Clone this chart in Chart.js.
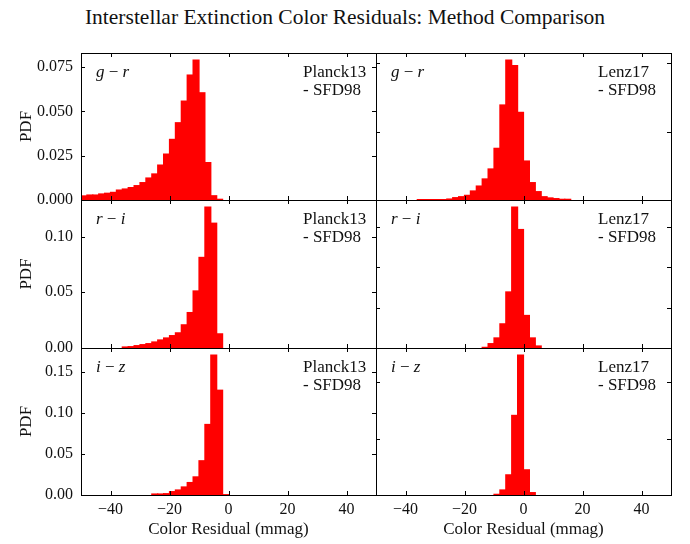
<!DOCTYPE html>
<html>
<head>
<meta charset="utf-8">
<title>Interstellar Extinction Color Residuals</title>
<script src="https://cdn.jsdelivr.net/npm/chart.js@4.4.0/dist/chart.umd.min.js"></script>
<style>
  html, body { margin: 0; padding: 0; background: #fff; }
  #fig { position: relative; width: 690px; height: 544px; overflow: hidden; font-family: "Liberation Serif", serif; }
  #fig canvas { position: absolute; }
  #title { position: absolute; left: 0; top: 6px; width: 690px; text-align: center; font-size: 21.5px; line-height: 22px; color: #111; }
</style>
</head>
<body>
<div id="fig">
  <div id="title">Interstellar Extinction Color Residuals: Method Comparison</div>
</div>
<script>
// histogram bins: 2 mmag wide, first left edge at -50
const binStart = -50;
const binWidth = 2;

// PDF per bin, Planck13 - SFD98
const planckGR = [
  0.0023, 0.0028, 0.0028, 0.0034, 0.0038, 0.0043, 0.0056, 0.0062, 0.0070, 0.0081,
  0.0098, 0.0124, 0.0147, 0.0197, 0.0259, 0.0342, 0.0436, 0.0558, 0.0705, 0.0790,
  0.0605, 0.0211, 0.0024, 0.0004, 0, 0, 0, 0, 0, 0,
  0, 0, 0, 0, 0, 0, 0, 0, 0, 0,
  0, 0, 0, 0, 0, 0, 0, 0, 0, 0
];
const planckRI = [
  0, 0, 0, 0, 0, 0, 0, 0.0009, 0.0012, 0.0021,
  0.0030, 0.0039, 0.0054, 0.0072, 0.0090, 0.0111, 0.0136, 0.0208, 0.0318, 0.0512,
  0.0813, 0.1265, 0.1120, 0.0127, 0, 0, 0, 0, 0, 0,
  0, 0, 0, 0, 0, 0, 0, 0, 0, 0,
  0, 0, 0, 0, 0, 0, 0, 0, 0, 0
];
const planckIZ = [
  0, 0, 0, 0, 0, 0, 0, 0, 0, 0,
  0, 0, 0.0012, 0.0012, 0.0016, 0.0041, 0.0061, 0.0098, 0.0152, 0.0221,
  0.0418, 0.0861, 0.1709, 0.1279, 0.0004, 0, 0, 0, 0, 0,
  0, 0, 0, 0, 0, 0, 0, 0, 0, 0,
  0, 0, 0, 0, 0, 0, 0, 0, 0, 0
];

// PDF per bin, Lenz17 - SFD98
const lenzGR = [
  0, 0, 0, 0, 0, 0, 0, 0.0003, 0.0003, 0.0003,
  0.0003, 0.0003, 0.0007, 0.0017, 0.0024, 0.0034, 0.0066, 0.0102, 0.0154, 0.0227,
  0.0378, 0.0695, 0.1024, 0.0983, 0.0641, 0.0285, 0.0127, 0.0061, 0.0024, 0.0015,
  0.0010, 0.0005, 0.0005, 0, 0, 0, 0, 0, 0, 0,
  0, 0, 0, 0, 0, 0, 0, 0, 0, 0
];
const lenzRI = [
  0, 0, 0, 0, 0, 0, 0, 0, 0, 0,
  0, 0, 0, 0, 0, 0, 0, 0, 0.0008, 0.0054,
  0.0125, 0.0300, 0.0696, 0.1750, 0.1471, 0.0404, 0.0125, 0.0025, 0, 0,
  0, 0, 0, 0, 0, 0, 0, 0, 0, 0,
  0, 0, 0, 0, 0, 0, 0, 0, 0, 0
];
const lenzIZ = [
  0, 0, 0, 0, 0, 0, 0, 0, 0, 0,
  0, 0, 0, 0, 0, 0, 0, 0, 0, 0,
  0.0012, 0.0089, 0.0357, 0.1410, 0.2480, 0.0446, 0.0042, 0, 0, 0,
  0, 0, 0, 0, 0, 0, 0, 0, 0, 0,
  0, 0, 0, 0, 0, 0, 0, 0, 0, 0
];

const xTickValues = [-40, -20, 0, 20, 40];
const colorNames = [['g', 'r'], ['r', 'i'], ['i', 'z']];
const methodNames = ['Planck13', 'Lenz17'];

// y ticks per panel (left column labelled, right column ticks only)
const yTicksPlanck = [[0, 0.025, 0.05, 0.075], [0, 0.05, 0.10], [0, 0.05, 0.10, 0.15]];
const yDecimalsPlanck = [3, 2, 2];
const yTicksLenz = [[0, 0.05, 0.10], [0, 0.05, 0.10, 0.15], [0, 0.10, 0.20]];

const planckValues = [planckGR, planckRI, planckIZ];
const lenzValues = [lenzGR, lenzRI, lenzIZ];

// grid geometry
const colLeft = [81, 376];
const plotWidth = 295;
const rowTop = [53, 200, 348];
const rowBottom = [200, 348, 495];

Chart.defaults.font.family = "'Liberation Serif', serif";
Chart.defaults.color = '#111';

const textColor = '#111';

// box, inward ticks on all four sides, and the in-panel labels
const framePlugin = {
  id: 'frame',
  afterDraw(chart, args, opts) {
    const { ctx, chartArea: a, scales: { x, y } } = chart;
    ctx.save();
    ctx.strokeStyle = '#000';
    ctx.lineWidth = 1;
    ctx.beginPath();
    x.ticks.forEach(t => {
      const px = Math.round(x.getPixelForValue(t.value)) + 0.5;
      ctx.moveTo(px, a.bottom); ctx.lineTo(px, a.bottom - 4);
      ctx.moveTo(px, a.top); ctx.lineTo(px, a.top + 4);
    });
    y.ticks.forEach(t => {
      const py = Math.round(y.getPixelForValue(t.value)) + 0.5;
      ctx.moveTo(a.left, py); ctx.lineTo(a.left + 4, py);
      ctx.moveTo(a.right, py); ctx.lineTo(a.right - 4, py);
    });
    ctx.stroke();
    ctx.strokeRect(a.left + 0.5, a.top + 0.5, a.right - a.left, a.bottom - a.top);

    ctx.fillStyle = textColor;
    ctx.textBaseline = 'alphabetic';
    ctx.textAlign = 'left';
    // colour name, e.g. g − r
    let tx = a.left + 15;
    const ty = a.top + 24;
    ctx.font = "italic 17px 'Liberation Serif', serif";
    ctx.fillText(opts.color[0], tx, ty);
    tx += ctx.measureText(opts.color[0]).width;
    ctx.font = "17px 'Liberation Serif', serif";
    ctx.fillText(' \u2212 ', tx, ty);
    tx += ctx.measureText(' \u2212 ').width;
    ctx.font = "italic 17px 'Liberation Serif', serif";
    ctx.fillText(opts.color[1], tx, ty);

    // method label
    ctx.font = "17px 'Liberation Serif', serif";
    ctx.fillText(opts.method, a.right - 73, a.top + 24);
    ctx.fillText('- SFD98', a.right - 73, a.top + 42);
    ctx.restore();
  }
};

const fig = document.getElementById('fig');

function drawPanel(col, row) {
  const values = col === 0 ? planckValues[row] : lenzValues[row];
  const yTicks = col === 0 ? yTicksPlanck[row] : yTicksLenz[row];
  const dec = yDecimalsPlanck[row];
  const L = col === 0 ? 81 : 12, R = 12, T = 12, B = row === 2 ? 49 : 12;
  const h = rowBottom[row] - rowTop[row];

  const canvas = document.createElement('canvas');
  canvas.width = L + plotWidth + R;
  canvas.height = T + h + B;
  canvas.style.left = (colLeft[col] - L) + 'px';
  canvas.style.top = (rowTop[row] - T) + 'px';
  fig.appendChild(canvas);

  const points = [];
  values.forEach((v, i) => {
    if (v > 0) points.push({ x: binStart + binWidth * i + binWidth / 2, y: v });
  });
  const ymax = Math.max(...values) * 1.05;

  new Chart(canvas, {
    type: 'bar',
    data: {
      datasets: [{
        data: points,
        backgroundColor: '#ff0000',
        borderWidth: 0,
        inflateAmount: 0.6,
        barPercentage: 1,
        categoryPercentage: 1
      }]
    },
    options: {
      responsive: false,
      animation: false,
      devicePixelRatio: 1,
      layout: { padding: { top: T, right: R, left: 0, bottom: 0 } },
      plugins: {
        legend: { display: false },
        tooltip: { enabled: false },
        frame: { color: colorNames[row], method: methodNames[col] }
      },
      scales: {
        x: {
          type: 'linear',
          min: -50,
          max: 50,
          offset: false,
          grid: { display: false, drawTicks: false, offset: false },
          border: { display: false },
          ticks: {
            display: row === 2,
            autoSkip: false,
            maxRotation: 0,
            padding: 5,
            color: textColor,
            font: { size: 16 },
            callback: v => (v < 0 ? '\u2212' + (-v) : String(v))
          },
          title: {
            display: row === 2,
            text: 'Color Residual (mmag)',
            color: textColor,
            font: { size: 17 },
            padding: { top: 0, bottom: 4 }
          },
          afterBuildTicks: s => { s.ticks = xTickValues.map(v => ({ value: v })); },
          afterFit: s => { s.height = B; s.paddingLeft = 0; s.paddingRight = 0; }
        },
        y: {
          min: 0,
          max: ymax,
          grid: { display: false, drawTicks: false },
          border: { display: false },
          ticks: {
            display: col === 0,
            autoSkip: false,
            padding: 8,
            color: textColor,
            font: { size: 16 },
            callback: v => v.toFixed(dec)
          },
          title: {
            display: col === 0,
            text: 'PDF',
            color: textColor,
            font: { size: 17 },
            padding: { top: 16, bottom: 0 }
          },
          afterBuildTicks: s => { s.ticks = yTicks.map(v => ({ value: v })); },
          afterFit: s => { s.width = L; s.paddingTop = 0; s.paddingBottom = 0; }
        }
      }
    },
    plugins: [framePlugin]
  });
}

for (let row = 0; row < 3; row++) {
  for (let col = 0; col < 2; col++) drawPanel(col, row);
}
</script>
</body>
</html>
